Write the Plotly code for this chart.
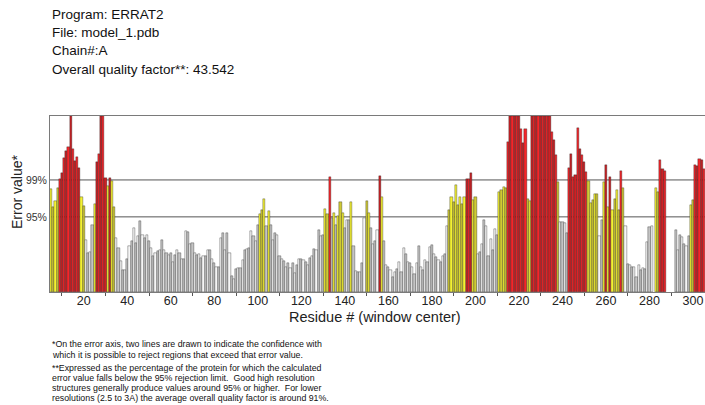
import plotly.graph_objects as go

# ERRAT2 per-residue error values (window centre residues 5..305).
# None marks window positions with no computed value.
residues = list(range(5, 306))
error_values = [
    15.8, 13.0, 14.0, 16.0, 17.4, 18.3, 20.5, 21.6, 22.3, 27.0,   # 5-14
    22.0, 20.1, 20.7, 19.1, 14.6, 13.2, 8.0, 6.0, 6.1, 10.3,      # 15-24
    13.5, 20.0, 21.1, 27.0, 27.0, 17.5, 16.3, 17.5, 17.0, 13.0,   # 25-34
    8.3, 6.8, 4.8, 3.4, 3.4, 5.0, 7.0, 7.8, 9.8, 7.5,             # 35-44
    8.6, 10.9, 8.8, 8.3, 8.8, 7.8, 6.8, 5.5, 6.0, 6.3,            # 45-54
    6.5, 8.0, 6.5, 6.0, 5.7, 6.0, 4.6, 5.7, 6.5, 6.0,             # 55-64
    5.1, 5.1, 9.3, 9.2, 7.3, 7.5, 6.0, 5.7, 5.9, 5.2,             # 65-74
    5.5, 5.5, 6.4, 6.4, 5.0, 4.5, 3.9, 3.8, 8.3, 9.1,             # 75-84
    6.5, 9.1, 6.0, 2.4, 2.0, 3.6, 3.7, 3.7, 4.9, 6.5,             # 85-94
    6.6, 6.8, 9.3, 8.6, 7.8, 10.3, 11.9, 12.6, 14.3, 10.2,        # 95-104
    12.4, 10.3, 8.0, 9.0, 8.8, 5.6, 5.0, 4.7, 3.8, 4.5,           # 105-114
    3.7, 4.5, 2.9, 4.2, 5.0, 5.1, 4.9, 4.6, 4.2, 5.2,             # 115-124
    5.5, 6.6, 6.5, 9.5, 8.6, 8.7, 12.7, 11.9, 17.6, 11.4,         # 125-134
    12.1, 10.3, 11.6, 13.8, 12.1, 9.8, 11.1, 11.0, 13.8, 7.0,     # 135-144
    3.2, 3.0, 3.1, 4.5, 11.4, 13.9, 12.1, 9.8, 7.3, 7.8,          # 145-154
    9.5, 17.8, 14.5, 7.9, 4.1, 3.8, 3.4, 2.3, 3.1, 3.6,           # 155-164
    4.6, 3.1, 6.7, 5.9, 4.6, 4.4, 3.8, 2.8, 4.4, 7.0,             # 165-174
    3.8, 3.3, 4.9, 4.6, 6.9, 7.2, 5.9, 5.4, 4.9, 4.6,             # 175-184
    5.6, 5.9, 10.2, 12.6, 14.5, 13.8, 16.4, 13.3, 14.5, 13.5,     # 185-194
    14.6, 17.4, 17.4, 18.2, 14.1, 14.5, 5.9, 6.1, 7.4, 11.0,      # 195-204
    10.2, 5.6, 8.1, 6.4, 9.7, 8.7, 15.4, 15.6, 16.1, 15.9,        # 205-214
    23.0, 27.0, 27.0, 27.0, 27.0, 27.0, 25.0, 22.8, 25.0, 14.3,   # 215-224
    13.9, 27.0, 27.0, 27.0, 27.0, 27.0, 27.0, 27.0, 27.0, 27.0,   # 225-234
    24.6, 23.3, 21.0, 16.8, 10.8, 10.8, 10.6, 9.1, 19.0, 21.1,    # 235-244
    17.7, 18.0, 25.1, 22.0, 21.0, 20.0, 18.4, 17.0, 13.7, 14.1,   # 245-254
    15.1, 15.1, 8.6, 11.0, 16.9, 19.5, 13.1, 17.7, 12.6, 14.3,    # 255-264
    15.6, 12.6, 18.5, 15.9, 10.2, 4.3, 4.2, 3.9, 3.8, 2.3,        # 265-274
    4.1, 3.4, 3.7, 3.6, 7.6, 9.9, 10.2, None, 16.0, 15.4,         # 275-284
    20.2, 18.8, 18.5, None, None, None, None, 9.5, 6.4, 8.7,      # 285-294
    8.4, 7.3, 7.0, 8.6, 13.3, 14.1, 19.5, 19.3, 20.4, 20.2,       # 295-304
    18.8,                                                         # 305
]

limit_levels = [11.526, 17.191]
limit_labels = ["95%", "99%"]
x_tick_values = list(range(20, 301, 20))
header_lines = [
    "Program: ERRAT2",
    "File: model_1.pdb",
    "Chain#:A",
    "Overall quality factor**: 43.542",
]
note_lines = [
    "*On the error axis, two lines are drawn to indicate the confidence with",
    "which it is possible to reject regions that exceed that error value.",
    "**Expressed as the percentage of the protein for which the calculated",
    "error value falls below the 95% rejection limit.  Good high resolution",
    "structures generally produce values around 95% or higher.  For lower",
    "resolutions (2.5 to 3A) the average overall quality factor is around 91%.",
]

Y_MAX = 27.0
W, H = 705, 405
L, R, T, B = 50, 0, 116, 113

# paired fills: plain and slightly darker shade, alternated along the axis
PALETTE = {
    "ok": ("#f6f6f6", "#c4c4c4"),
    "warn": ("#f4f232", "#cfca34"),
    "bad": ("#f5262a", "#cc2226"),
}


def bar_fill(idx, v):
    if v is None:
        return "#ffffff"
    if v > limit_levels[1]:
        key = "bad"
    elif v > limit_levels[0]:
        key = "warn"
    else:
        key = "ok"
    return PALETTE[key][idx % 2]


fills = [bar_fill(i, v) for i, v in enumerate(error_values)]


def px_x(x):
    return (x - L) / (W - L - R)


def px_y(y):
    return (H - B - y) / (H - T - B)


FONT = "Liberation Sans, Arial, sans-serif"
NARROW = "Liberation Sans Narrow, Arial Narrow, Liberation Sans, sans-serif"

fig = go.Figure(
    go.Bar(
        x=residues,
        y=error_values,
        width=1.0,
        marker=dict(color=fills, line=dict(color="#1a1a1a", width=0.35)),
        hoverinfo="x+y",
    )
)

for lvl in limit_levels:
    fig.add_shape(
        type="line", xref="paper", x0=0, x1=1, yref="y", y0=lvl, y1=lvl,
        line=dict(color="#555555", width=1), layer="below",
    )

annotations = []
for i, txt in enumerate(header_lines):
    annotations.append(dict(
        text=txt, xref="paper", yref="paper", x=px_x(50), y=px_y(15 + i * 18),
        xanchor="left", yanchor="middle", showarrow=False,
        font=dict(family=FONT, size=13.5, color="#111111"),
    ))

note_y = [344, 354.5, 367.5, 377.5, 387.5, 397.5]
for txt, yy in zip(note_lines, note_y):
    annotations.append(dict(
        text=txt, xref="paper", yref="paper", x=px_x(50), y=px_y(yy),
        xanchor="left", yanchor="middle", showarrow=False,
        font=dict(family=NARROW, size=8.8, color="#111111"),
    ))

annotations.append(dict(
    text="Residue # (window center)", xref="paper", yref="paper",
    x=px_x(375), y=px_y(317), xanchor="center", yanchor="middle",
    showarrow=False, font=dict(family=FONT, size=14.5, color="#222222"),
))
annotations.append(dict(
    text="Error value*", xref="paper", yref="paper",
    x=px_x(17), y=px_y(192), xanchor="center", yanchor="middle", textangle=-90,
    showarrow=False, font=dict(family=FONT, size=14, color="#222222"),
))

fig.update_layout(
    width=W, height=H,
    margin=dict(l=L, r=R, t=T, b=B, autoexpand=False),
    paper_bgcolor="white", plot_bgcolor="white",
    bargap=0, showlegend=False,
    annotations=annotations,
    xaxis=dict(
        range=[4.5, 305.5], tickmode="array", tickvals=x_tick_values,
        ticks="", showline=True, linecolor="#7a7a7a", linewidth=1, mirror=True,
        showgrid=False, zeroline=False, ticklabelstandoff=-3,
        tickfont=dict(family=FONT, size=12.5, color="#222222"),
        minor=dict(tick0=10, dtick=20, ticks="outside", ticklen=3,
                   tickcolor="#555555", tickwidth=1, showgrid=False),
    ),
    yaxis=dict(
        range=[0, Y_MAX], tickmode="array", tickvals=limit_levels,
        ticktext=limit_labels, ticks="", showline=True, linecolor="#7a7a7a",
        linewidth=1, showgrid=False, zeroline=False,
        tickfont=dict(family=FONT, size=10.5, color="#333333"),
    ),
)

fig.write_html("out.html")
